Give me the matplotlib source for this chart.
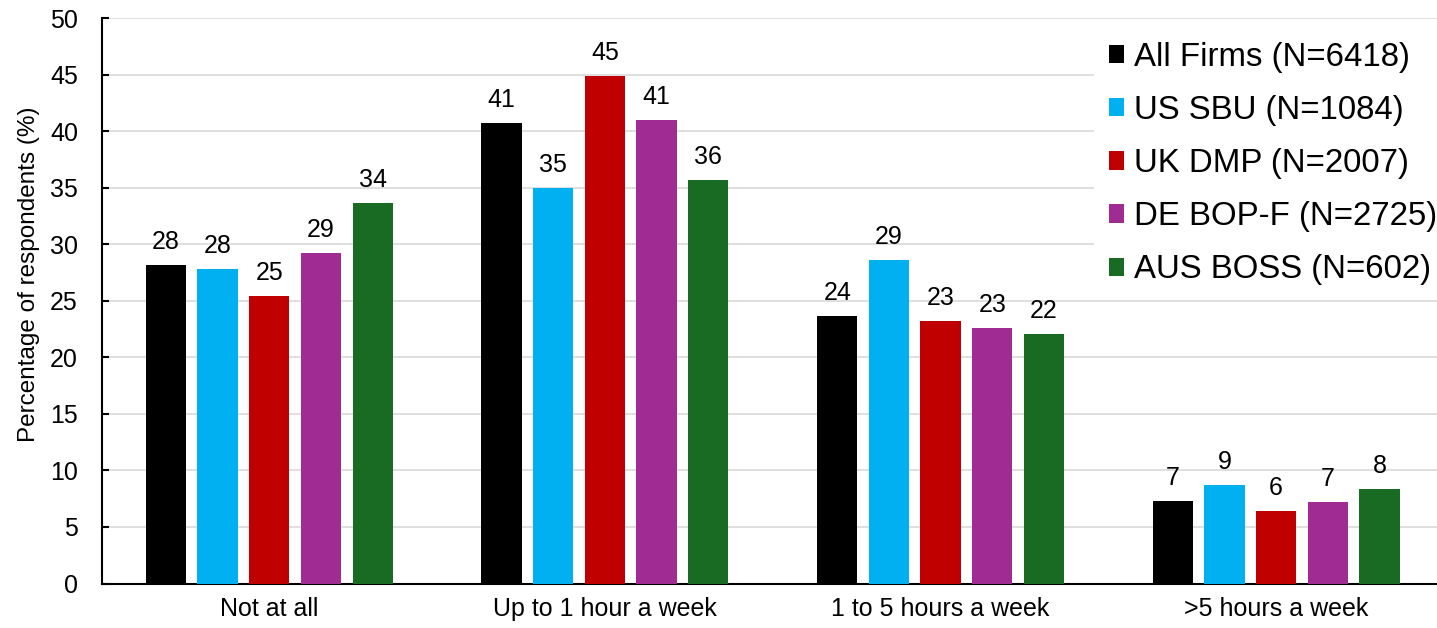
import matplotlib
matplotlib.use("Agg")
import matplotlib.pyplot as plt
import numpy as np

plt.rcParams['font.family'] = ['Liberation Sans', 'DejaVu Sans']

categories = ["Not at all", "Up to 1 hour a week", "1 to 5 hours a week", ">5 hours a week"]
series_names = ["All Firms (N=6418)", "US SBU (N=1084)", "UK DMP (N=2007)",
                "DE BOP-F (N=2725)", "AUS BOSS (N=602)"]
all_firms = [28.2, 40.7, 23.7, 7.3]
us_sbu = [27.8, 35.0, 28.6, 8.7]
uk_dmp = [25.4, 44.9, 23.2, 6.4]
de_bopf = [29.2, 41.0, 22.6, 7.2]
aus_boss = [33.7, 35.7, 22.1, 8.4]
y_ticks = [0, 5, 10, 15, 20, 25, 30, 35, 40, 45, 50]

series = [all_firms, us_sbu, uk_dmp, de_bopf, aus_boss]
colors = ["#000000", "#00B0F0", "#C00000", "#A02B93", "#196B24"]

W, H = 1437, 628
fig = plt.figure(figsize=(W / 100, H / 100), dpi=100)
ax = fig.add_axes([101.5 / W, 1 - 583.5 / H, (1444 - 101.5) / W, (583.5 - 18.3) / H])

x = np.arange(len(categories))
pitch = 0.154
width = 0.12
for i, (vals, col, name) in enumerate(zip(series, colors, series_names)):
    pos = x + (i - 2) * pitch
    bars = ax.bar(pos, vals, width=width, color=col, label=name, zorder=3)
    for b, v in zip(bars, vals):
        ax.annotate(f"{v:.0f}", (b.get_x() + b.get_width() / 2, v),
                    xytext=(0, 11.5), textcoords="offset points",
                    ha="center", va="baseline", fontsize=18, color="#000000")

ax.set_xlim(-0.5, 3.5)
ax.set_ylim(0, 50)
ax.set_yticks(y_ticks)
ax.set_xticks(x)
ax.set_xticklabels(categories, fontsize=18)
ax.tick_params(axis="x", length=0, pad=10)
ax.tick_params(axis="y", direction="in", length=5, width=1.5, pad=17, labelsize=18)
ax.yaxis.grid(True, color="#D9D9D9", linewidth=1.2, zorder=0)
ax.set_axisbelow(True)
for s in ["top", "right"]:
    ax.spines[s].set_visible(False)
ax.spines["left"].set_linewidth(1.5)
ax.spines["bottom"].set_linewidth(1.5)

fig.text(29.5 / W, 1 - 274 / H, "Percentage of respondents (%)", rotation=90,
         ha="center", va="center", fontsize=17.5)

leg = fig.legend(loc="upper left", bbox_to_anchor=(1088 / W, 1 - 27 / H),
                 fontsize=23.8, frameon=True, fancybox=False, edgecolor="none",
                 facecolor="white", framealpha=1, borderpad=0.45,
                 handlelength=0.47, handleheight=0.47, handletextpad=0.28,
                 labelspacing=0.67, borderaxespad=0)
leg._legend_box.align = "left"
leg.set_bbox_to_anchor((1094 / W, 1 - 27 / H), transform=fig.transFigure)

fig.savefig("out.png", dpi=100)
